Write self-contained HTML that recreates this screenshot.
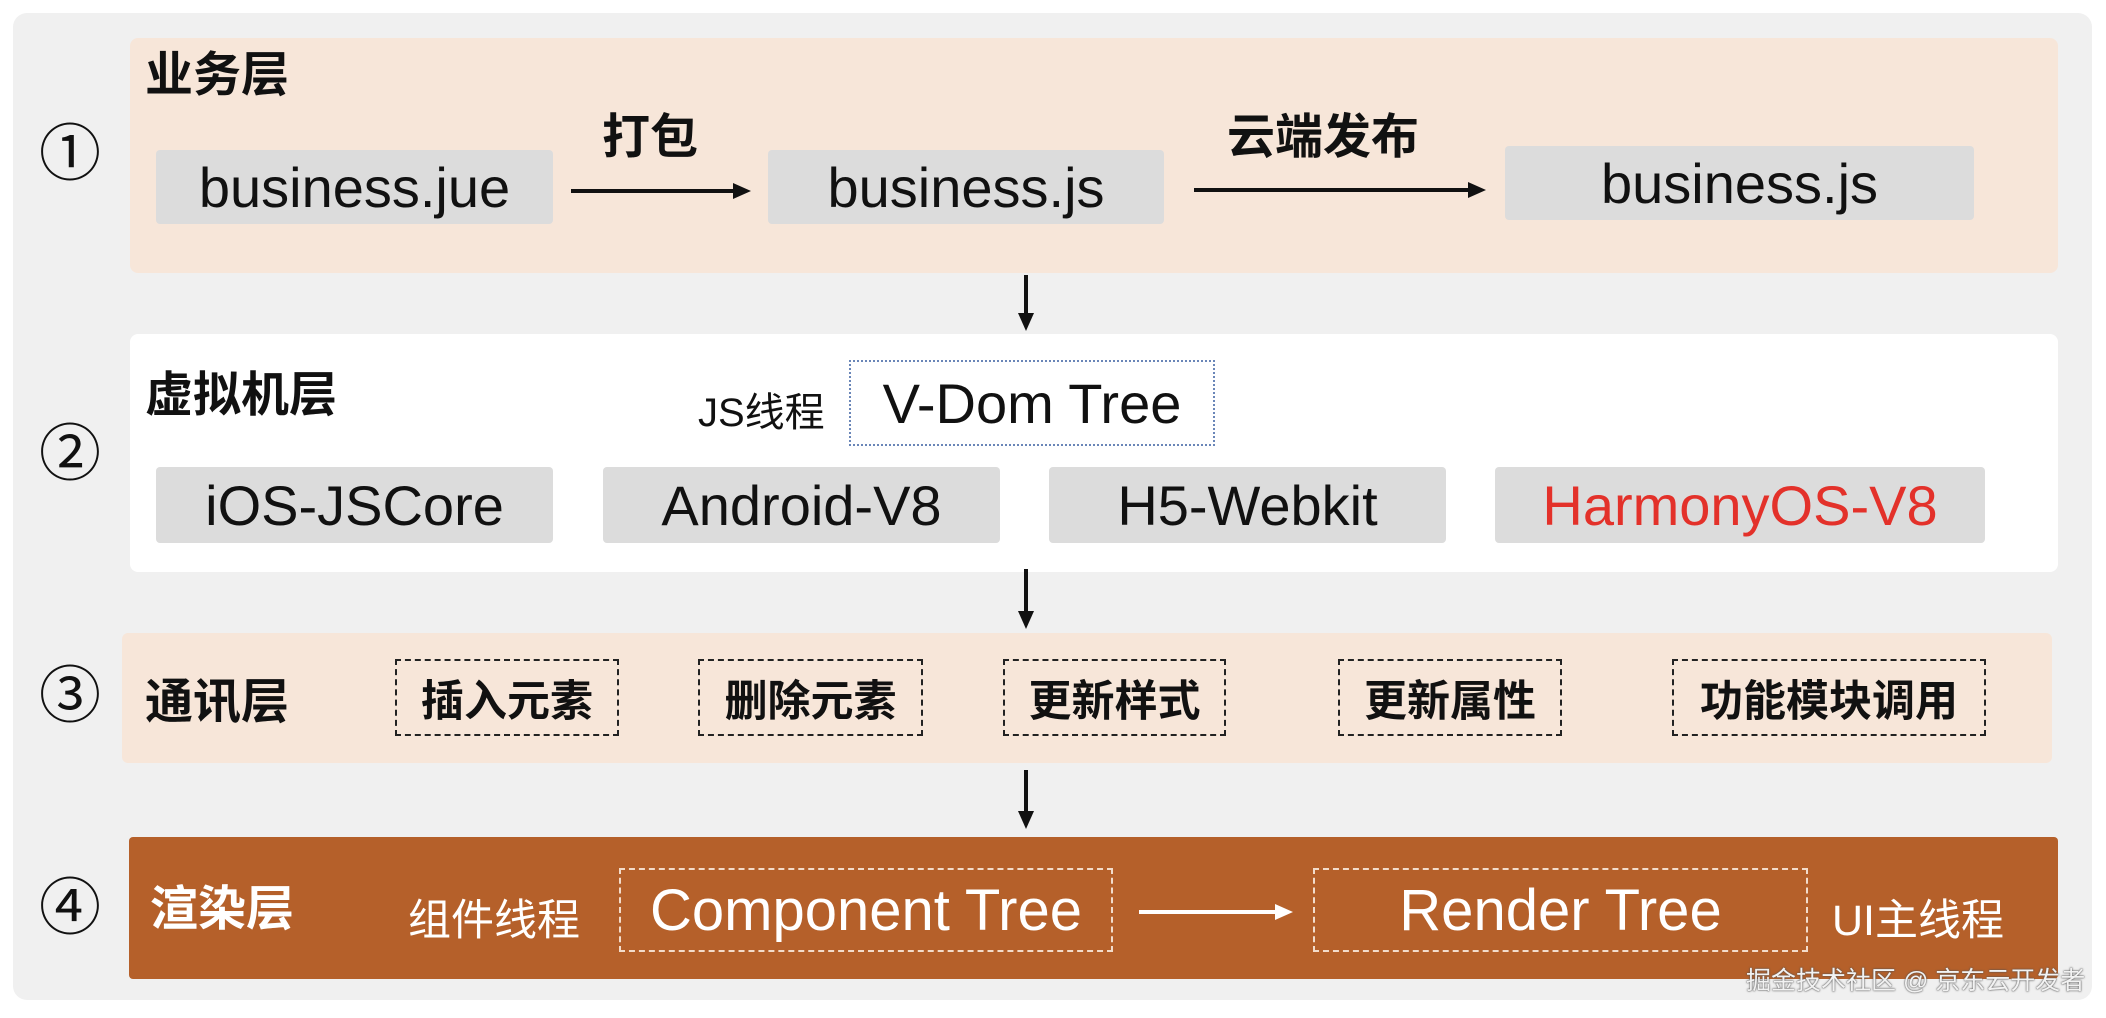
<!DOCTYPE html>
<html><head><meta charset="utf-8"><style>
body{margin:0;width:2106px;height:1018px;background:#fff;position:relative;overflow:hidden;font-family:"Liberation Sans","Noto Sans CJK SC",sans-serif;}
.a{position:absolute;box-sizing:border-box;}
.c{display:flex;align-items:center;justify-content:center;}
.g{background:#dcdcdc;border-radius:4px;font-size:56px;color:#111;}
.t{font-weight:bold;font-size:48px;color:#111;line-height:1;}
.n{font-size:62px;color:#111;width:80px;text-align:center;line-height:1;}
.d{border:2px dashed #222;font-size:43px;font-weight:bold;color:#111;}
.w{border:2px dashed #f3dccb;font-size:58px;color:#fff;}
</style></head><body>
<div class="a" style="left:13px;top:13px;width:2079px;height:987px;background:#f0f0f0;border-radius:14px"></div>
<div class="a" style="left:130px;top:38px;width:1928px;height:235px;background:#f7e6d9;border-radius:8px"></div>
<div class="a" style="left:130px;top:334px;width:1928px;height:238px;background:#fff;border-radius:8px"></div>
<div class="a" style="left:122px;top:633px;width:1930px;height:130px;background:#f7e6d9;border-radius:6px"></div>
<div class="a" style="left:129px;top:837px;width:1929px;height:142px;background:#b5602a;border-radius:4px"></div>

<div class="a n" style="left:30px;top:124px">①</div>
<div class="a n" style="left:30px;top:424px">②</div>
<div class="a n" style="left:30px;top:666px">③</div>
<div class="a n" style="left:30px;top:878px">④</div>

<div class="a t" style="left:145px;top:52px">业务层</div>
<div class="a g c" style="left:156px;top:150px;width:397px;height:74px">business.jue</div>
<div class="a t" style="left:602px;top:114px">打包</div>
<div class="a g c" style="left:768px;top:150px;width:396px;height:74px">business.js</div>
<div class="a t" style="left:1227px;top:114px">云端发布</div>
<div class="a g c" style="left:1505px;top:146px;width:469px;height:74px">business.js</div>

<div class="a t" style="left:145px;top:372px">虚拟机层</div>
<div class="a" style="left:698px;top:380px;font-size:40px;color:#111">JS线程</div>
<div class="a c" style="left:849px;top:360px;width:366px;height:86px;border:2px dotted #6a86b8;font-size:56px;color:#111">V-Dom Tree</div>
<div class="a g c" style="left:156px;top:467px;width:397px;height:76px">iOS-JSCore</div>
<div class="a g c" style="left:603px;top:467px;width:397px;height:76px">Android-V8</div>
<div class="a g c" style="left:1049px;top:467px;width:397px;height:76px">H5-Webkit</div>
<div class="a g c" style="left:1495px;top:467px;width:490px;height:76px;color:#e3312a">HarmonyOS-V8</div>

<div class="a t" style="left:145px;top:679px">通讯层</div>
<div class="a d c" style="left:395px;top:659px;width:224px;height:77px">插入元素</div>
<div class="a d c" style="left:698px;top:659px;width:225px;height:77px">删除元素</div>
<div class="a d c" style="left:1003px;top:659px;width:223px;height:77px">更新样式</div>
<div class="a d c" style="left:1338px;top:659px;width:224px;height:77px">更新属性</div>
<div class="a d c" style="left:1672px;top:659px;width:314px;height:77px">功能模块调用</div>

<div class="a t" style="left:150px;top:886px;color:#fff">渲染层</div>
<div class="a" style="left:408px;top:886px;font-size:43px;color:#fff">组件线程</div>
<div class="a w c" style="left:619px;top:868px;width:494px;height:84px">Component Tree</div>
<div class="a w c" style="left:1313px;top:868px;width:495px;height:84px">Render Tree</div>
<div class="a" style="left:1832px;top:886px;font-size:43px;color:#fff">UI主线程</div>
<div class="a" style="left:1746px;top:961px;font-size:25px;color:#f2f2f2;text-shadow:0 0 2px #555,0 0 1px #555">掘金技术社区 @ 京东云开发者</div>

<svg class="a" style="left:0;top:0" width="2106" height="1018">
<g stroke="#111" stroke-width="4" fill="#111">
<line x1="571" y1="191" x2="735" y2="191"/><polygon points="751,191 733,183 733,199" stroke="none"/>
<line x1="1194" y1="190" x2="1470" y2="190"/><polygon points="1486,190 1468,182 1468,198" stroke="none"/>
<line x1="1026" y1="275" x2="1026" y2="314"/><polygon points="1026,331 1018,313 1034,313" stroke="none"/>
<line x1="1026" y1="569" x2="1026" y2="612"/><polygon points="1026,629 1018,611 1034,611" stroke="none"/>
<line x1="1026" y1="770" x2="1026" y2="812"/><polygon points="1026,829 1018,811 1034,811" stroke="none"/>
</g>
<g stroke="#fff" stroke-width="4" fill="#fff">
<line x1="1139" y1="912" x2="1276" y2="912"/><polygon points="1293,912 1275,904 1275,920" stroke="none"/>
</g>
</svg>
</body></html>
